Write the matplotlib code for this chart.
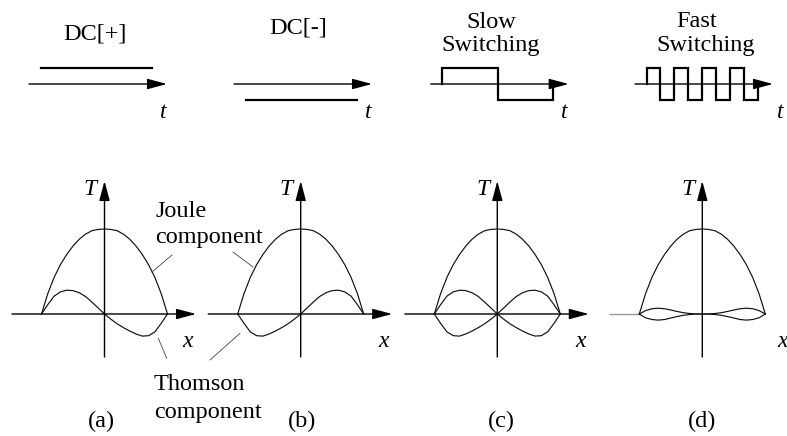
import numpy as np
import matplotlib
matplotlib.use("Agg")
import matplotlib.pyplot as plt

# schematic: current waveform (top) and temperature profiles (bottom)
serif = ["Liberation Serif", "DejaVu Serif"]

# panel labels / titles
panel_tags = ["(a)", "(b)", "(c)", "(d)"]
titles = [["DC[+]"], ["DC[-]"], ["Slow", "Switching"], ["Fast", "Switching"]]

# current signal: levels of each half period (+1 / -1)
signal_dc_plus = [1]
signal_dc_minus = [-1]
signal_slow = [1, -1]
signal_fast = [1, -1, 1, -1, 1, -1, 1, -1]
signals = [signal_dc_plus, signal_dc_minus, signal_slow, signal_fast]

# temperature profiles along x (u = -1 .. 1), fraction of Joule peak
u = [-1.0, -0.9, -0.8, -0.7, -0.6, -0.5, -0.4, -0.3, -0.2, -0.1, 0.0,
     0.1, 0.2, 0.3, 0.4, 0.5, 0.6, 0.7, 0.8, 0.9, 1.0]
joule = [0, 0.24, 0.43, 0.58, 0.70, 0.80, 0.88, 0.94, 0.98, 0.995, 1.0,
         0.995, 0.98, 0.94, 0.88, 0.80, 0.70, 0.58, 0.43, 0.24, 0]
thomson_dc = [0, 0.11, 0.21, 0.26, 0.28, 0.275, 0.25, 0.205, 0.14, 0.07, 0,
              -0.06, -0.115, -0.16, -0.20, -0.235, -0.26, -0.255, -0.21, -0.11, 0]
thomson_fast = [0, 0.04, 0.062, 0.068, 0.062, 0.047, 0.03, 0.015, 0.006, 0.001, 0,
                -0.001, -0.006, -0.015, -0.03, -0.047, -0.065, -0.072, -0.065, -0.045, 0]

# ---- layout (pixel coordinates) ----
W, H = 787, 436
fig = plt.figure(figsize=(W / 100, H / 100), dpi=100)
ax = fig.add_axes([0, 0, 1, 1])
ax.set_xlim(0, W)
ax.set_ylim(H, 0)
ax.axis("off")

cx = [104.5, 300.7, 497.3, 702.3]     # T-axis positions
top_start = [29, 234, 430.7, 635]     # start of time arrows
top_y = 84
amp = 16.3
sig_len = 111
axis_y = 314
half_w = 63
peak_h = 85

arrow = dict(arrowstyle="-|>,head_length=0.6,head_width=0.16", mutation_scale=20,
             lw=1.0, color="k", shrinkA=0, shrinkB=0)

u_arr = np.array(u)
j_arr = np.array(joule)


def profile(i, vals, mirror=False):
    x = cx[i] + (-u_arr if mirror else u_arr) * half_w
    y = axis_y - np.array(vals) * peak_h
    ax.plot(x, y, color="#111111", lw=0.85, solid_joinstyle="round")


for i in range(4):
    # --- top row: time axis + signal
    x0 = top_start[i]
    ax.annotate("", xy=(x0 + 138, top_y), xytext=(x0, top_y), arrowprops=arrow)
    lev = signals[i]
    s0 = x0 + 11.5
    step = sig_len / len(lev)
    if len(lev) == 1:
        ax.plot([s0, s0 + sig_len], [top_y - lev[0] * amp] * 2, color="k", lw=1.6)
    else:
        xs, ys = [s0], [top_y]
        for k, lv in enumerate(lev):
            xs += [s0 + k * step, s0 + (k + 1) * step]
            ys += [top_y - lv * amp, top_y - lv * amp]
        xs.append(s0 + sig_len)
        ys.append(top_y)
        ax.plot(xs, ys, color="k", lw=1.6, solid_joinstyle="miter")
    tx = x0 + 134 if i < 3 else 780
    ax.text(tx, 117.5, "t", fontsize=17, family=serif, style="italic", ha="center", va="baseline")

    # --- bottom row: T-x axes
    c = cx[i]
    ax.annotate("", xy=(c, 181), xytext=(c, 357), arrowprops=arrow)
    if i < 3:
        ax.annotate("", xy=(c + 91.5, axis_y), xytext=(c - 92.5, axis_y), arrowprops=arrow)
        xl = c + 83
    else:
        ax.plot([c - 92.5, c - half_w], [axis_y, axis_y], color="#999999", lw=1.0)
        ax.annotate("", xy=(c + 92, axis_y), xytext=(c - half_w, axis_y), arrowprops=arrow)
        xl = 783
    ax.text(c - 14.5, 195, "T", fontsize=17, family=serif, style="italic", ha="center", va="baseline")
    ax.text(xl, 346.7, "x", fontsize=17, family=serif, style="italic", ha="center", va="baseline")

    profile(i, joule)

# Thomson components
profile(0, thomson_dc)
profile(1, thomson_dc, mirror=True)
profile(2, thomson_dc)
profile(2, thomson_dc, mirror=True)
profile(3, thomson_fast)
profile(3, thomson_fast, mirror=True)

# titles
ax.text(94.7, 39.5, titles[0][0], fontsize=17.5, family=serif, ha="center", va="baseline")
ax.text(297.7, 33.5, titles[1][0], fontsize=17.5, family=serif, ha="center", va="baseline")
ax.text(490.8, 28.3, titles[2][0], fontsize=17.5, family=serif, ha="center", va="baseline")
ax.text(490.8, 50.5, titles[2][1], fontsize=17.5, family=serif, ha="center", va="baseline")
ax.text(696.7, 27, titles[3][0], fontsize=17.5, family=serif, ha="center", va="baseline")
ax.text(705.8, 50.5, titles[3][1], fontsize=17.5, family=serif, ha="center", va="baseline")

# component annotations
ax.text(155, 216.7, "Joule", fontsize=17.5, family=serif, ha="left", va="baseline")
ax.text(155, 243.3, "component", fontsize=17.5, family=serif, ha="left", va="baseline")
ax.text(154, 390, "Thomson", fontsize=17.5, family=serif, ha="left", va="baseline")
ax.text(154, 418, "component", fontsize=17.5, family=serif, ha="left", va="baseline")
leader = dict(color="#444444", lw=0.6)
ax.plot([172, 152], [255, 272], **leader)
ax.plot([233, 253], [252, 267], **leader)
ax.plot([158.3, 166.7], [338.3, 358.3], **leader)
ax.plot([240, 210], [333.3, 360], **leader)

# panel tags
for tag, x in zip(panel_tags, [101.5, 302, 501.7, 701.7]):
    ax.text(x, 427, tag, fontsize=17.5, family=serif, ha="center", va="baseline")

fig.savefig("out.png", dpi=100)
